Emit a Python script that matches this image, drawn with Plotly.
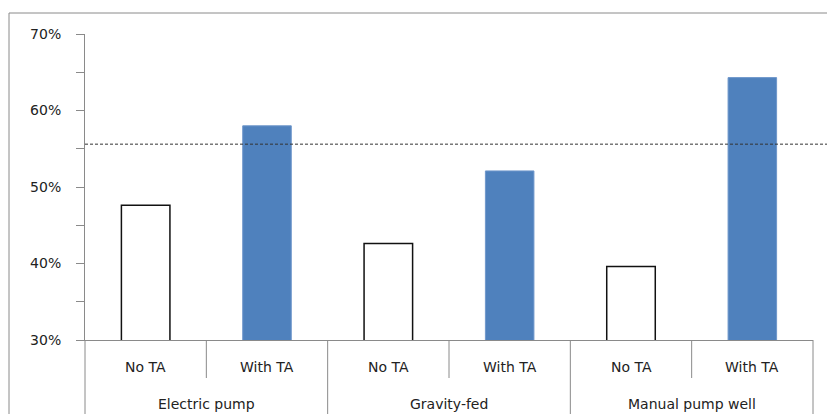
import plotly.graph_objects as go

# ---- data ----
groups = ["Electric pump", "Electric pump", "Gravity-fed", "Gravity-fed",
          "Manual pump well", "Manual pump well"]
subgroups = ["No TA", "With TA", "No TA", "With TA", "No TA", "With TA"]
values = [47.6, 58.0, 42.6, 52.1, 39.6, 64.3]
reference_line = 55.6
y_ticks = [30, 40, 50, 60, 70]
y_tick_labels = ["30%", "40%", "50%", "60%", "70%"]

W, H = 827, 414
ML, MR, MT, MB = 85, 14, 34, 74
PW, PH = W - ML - MR, H - MT - MB

fill = ["white" if s == "No TA" else "#4F81BD" for s in subgroups]
edge = ["#111111" if s == "No TA" else "#6F97CB" for s in subgroups]
edge_w = [1.5 if s == "No TA" else 1 for s in subgroups]

fig = go.Figure(go.Bar(
    x=[groups, subgroups], y=values,
    marker=dict(color=fill, line=dict(color=edge, width=edge_w)),
    width=0.4, showlegend=False, hoverinfo="skip",
))

gray = "#8A8A8A"
font = dict(family="DejaVu Sans", size=14, color="#222222")

n = len(subgroups)
shapes = []
annotations = []
# outer chart frame
shapes.append(dict(type="rect", xref="paper", yref="paper",
                   x0=(9 - ML) / PW, x1=(W + 10 - ML) / PW,
                   y0=-(H + 10 - MT - PH) / PH, y1=(MT + PH - 13) / PH,
                   line=dict(color=gray, width=1), fillcolor="rgba(0,0,0,0)",
                   layer="below"))
# category label dividers
for k in range(n + 1):
    is_group_edge = k == 0 or k == n or groups[k] != groups[k - 1]
    y_end = -(H + 5 - MT - PH) / PH if is_group_edge else -38 / PH
    shapes.append(dict(type="line", xref="paper", yref="paper",
                       x0=k / n, x1=k / n, y0=0, y1=y_end,
                       line=dict(color=gray, width=1)))
# sub-category labels
for i, s in enumerate(subgroups):
    annotations.append(dict(text=s, xref="paper", yref="paper",
                            x=(i + 0.5) / n, y=-27.5 / PH,
                            xanchor="center", yanchor="middle",
                            showarrow=False, font=font))
# group labels
seen = []
for g in groups:
    if g not in seen:
        seen.append(g)
for g in seen:
    idx = [i for i, gg in enumerate(groups) if gg == g]
    cx = (idx[0] + idx[-1] + 1) / 2 / n
    annotations.append(dict(text=g, xref="paper", yref="paper",
                            x=cx, y=-64 / PH,
                            xanchor="center", yanchor="middle",
                            showarrow=False, font=font))
# dashed reference line
shapes.append(dict(type="line", xref="paper", yref="y",
                   x0=0, x1=(W + 5 - ML) / PW, y0=reference_line, y1=reference_line,
                   line=dict(color="#333333", width=1, dash="3px,2px")))

fig.update_layout(
    width=W, height=H,
    margin=dict(l=ML, r=MR, t=MT, b=MB),
    paper_bgcolor="white", plot_bgcolor="white",
    font=font,
    shapes=shapes,
    annotations=annotations,
    xaxis=dict(
        showline=True, linecolor=gray, linewidth=1,
        showgrid=False, ticks="", showticklabels=False,
        showdividers=False,
    ),
    yaxis=dict(
        range=[30, 70], tickvals=y_ticks, ticktext=y_tick_labels,
        showline=True, linecolor=gray, linewidth=1,
        showgrid=False, zeroline=False,
        ticks="outside", ticklen=8, tickcolor=gray,
        minor=dict(dtick=5, ticks="outside", ticklen=8, tickcolor=gray, showgrid=False),
        ticklabelstandoff=12,
        tickfont=font,
    ),
)

fig.write_html("out.html",
               config={"displayModeBar": False},
               post_script="document.body.style.margin='0';document.body.style.padding='0';")
